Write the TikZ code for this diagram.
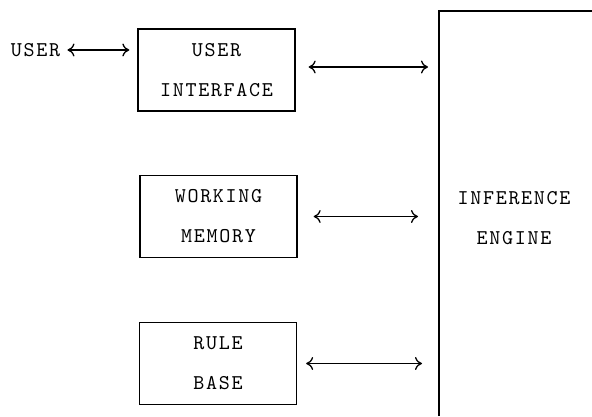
\documentclass[tikz,border=0pt]{standalone}
\usepackage{fontspec}
\setmonofont[LetterSpace=8]{Latin Modern Mono}
\usetikzlibrary{arrows.meta}

\begin{document}
\begin{tikzpicture}[x=0.5pt,y=-0.5pt,>={To[length=3.5pt,width=6.5pt]},
  lbl/.style={font=\ttfamily\fontsize{10.5}{20}\selectfont,align=center,inner sep=0pt},
  box/.style={lbl,draw,line width=0.65pt,minimum width=78.5pt,minimum height=41pt},
  link/.style={<->,line width=0.65pt}]
  \useasboundingbox (0,0) rectangle (592,416);
  % modules on the left
  \node[lbl] (user) at (35.5,50) {USER};
  \node[box] (ui) at (216.5,70) {USER\\INTERFACE};
  \node[box] (wm) at (218.5,216.5) {WORKING\\MEMORY};
  \node[box] (rb) at (218,363.5) {RULE\\BASE};
  % inference engine, open to the right and below
  \coordinate (eng) at (439,11);
  \draw[line width=0.65pt] (eng |- 0,416) -- (eng) -- (592,11);
  \node[lbl] (ie) at (514,218) {INFERENCE\\ENGINE};
  % links
  \draw[link,shorten <=3.5pt,shorten >=4pt] (user) -- (user -| ui.west);
  \draw[link,shorten <=6.5pt,shorten >=5.5pt] ([yshift=1.5pt]ui.east) -- ([yshift=1.5pt]ui.east -| eng);
  \draw[link,shorten <=8pt,shorten >=10.5pt] (wm.east) -- (wm.east -| eng);
  \draw[link,shorten <=4.5pt,shorten >=8.5pt] (rb.east) -- (rb.east -| eng);
\end{tikzpicture}
\end{document}
